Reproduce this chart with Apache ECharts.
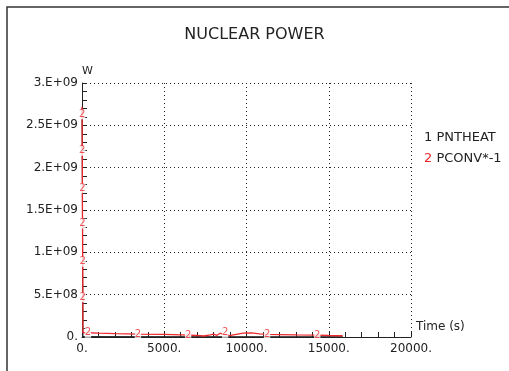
<!DOCTYPE html>
<html>
<head>
<meta charset="utf-8">
<script src="https://cdn.jsdelivr.net/npm/echarts@6/dist/echarts.min.js"></script>
<style>
  html, body { margin: 0; padding: 0; background: #fff; }
  #chart { width: 509px; height: 371px; }
</style>
</head>
<body>
<div id="chart"></div>
<script>
// Nuclear power vs. time (W)
const yTickLabels = ['0.', '5.E+08', '1.E+09', '1.5E+09', '2.E+09', '2.5E+09', '3.E+09'];
const xTickLabels = ['0.', '5000.', '10000.', '15000.', '20000.'];

// PNTHEAT (series 1): initial power, then small decay heat along the time axis
const pntheatTime  = [0, 20, 40, 60, 1000, 3000, 6000, 9000, 12000, 15850];
const pntheatValue = [2.70e9, 1.80e9, 0.90e9, 6.0e6, 5.0e6, 4.5e6, 4.0e6, 3.8e6, 3.5e6, 3.2e6];

// PCONV*-1 (series 2)
const pconvTime  = [0, 8, 16, 24, 32, 40, 48, 56, 62, 360, 1000, 2000, 3400, 5000, 6000, 6450, 7000, 7400, 7800, 8000, 8200, 8400, 8600, 8700, 9000, 9200, 9800, 10300, 10800, 11250, 12000, 13000, 14300, 15000, 15850];
const pconvValue = [2.72e9, 2.63e9, 2.20e9, 1.76e9, 1.34e9, 0.89e9, 0.47e9, 0.05e9, 5.2e7, 5.0e7, 4.5e7, 4.0e7, 3.5e7, 3.0e7, 2.5e7, 2.2e7, 1.8e7, 1.2e7, 2.5e7, 3.5e7, 2.0e7, 4.5e7, 3.0e7, 5.0e7, 1.5e7, 2.5e7, 4.5e7, 4.8e7, 3.8e7, 3.0e7, 2.8e7, 2.5e7, 2.2e7, 1.8e7, 1.5e7];
// points of the PCONV curve that carry the "2" curve marker
const pconvMarkIdx = [1, 2, 3, 4, 5, 6, 9, 12, 15, 23, 29, 32];

const RED = '#ec2a2e';
const INK = '#222';
const FONT = 'DejaVu Sans';

const pair = (ts, vs) => ts.map((t, i) => [t, vs[i]]);
const pconvData = pair(pconvTime, pconvValue);

const chart = echarts.init(document.getElementById('chart'), null, { renderer: 'canvas' });

chart.setOption({
  backgroundColor: '#fff',
  animation: false,
  title: {
    text: 'NUCLEAR POWER',
    left: 'center',
    top: 22,
    textStyle: { fontFamily: FONT, fontSize: 16, fontWeight: 'normal', color: INK }
  },
  legend: {
    orient: 'vertical',
    left: 414,
    top: 126,
    itemGap: 8,
    itemWidth: 0,
    itemHeight: 0,
    icon: 'none',
    selectedMode: false,
    data: ['PNTHEAT', 'PCONV*-1'],
    formatter: name => name === 'PNTHEAT' ? '{k|1} PNTHEAT' : '{r|2} PCONV*-1',
    textStyle: {
      fontFamily: FONT, fontSize: 13, color: INK,
      rich: {
        k: { color: INK, fontFamily: FONT, fontSize: 13 },
        r: { color: RED, fontFamily: FONT, fontSize: 13 }
      }
    }
  },
  grid: { left: 82, right: 98, top: 83, bottom: 34, containLabel: false },
  xAxis: {
    type: 'value',
    min: 0, max: 20000, interval: 5000,
    name: 'Time (s)',
    nameLocation: 'end',
    nameGap: 5,
    nameTextStyle: { fontFamily: FONT, fontSize: 12, color: INK, verticalAlign: 'bottom', align: 'left', padding: [0, 0, 4, 0] },
    axisLine: { show: true, onZero: false, lineStyle: { color: INK, width: 1 } },
    axisTick: { show: true, inside: true, length: 5, lineStyle: { color: INK } },
    minorTick: { show: true, splitNumber: 5, length: 5, lineStyle: { color: INK } },
    axisLabel: {
      fontFamily: FONT, fontSize: 12, color: INK, margin: 6,
      formatter: v => xTickLabels[Math.round(v / 5000)]
    },
    splitLine: { show: true, lineStyle: { color: INK, type: [1, 3], width: 1 } }
  },
  yAxis: {
    type: 'value',
    min: 0, max: 3e9, interval: 5e8,
    name: 'W',
    nameLocation: 'end',
    nameGap: 6,
    nameTextStyle: { fontFamily: FONT, fontSize: 11, color: INK, align: 'left' },
    axisLine: { show: true, onZero: false, lineStyle: { color: INK, width: 1 } },
    axisTick: { show: true, inside: true, length: 5, lineStyle: { color: INK } },
    minorTick: { show: true, splitNumber: 5, length: 5, lineStyle: { color: INK } },
    axisLabel: {
      fontFamily: FONT, fontSize: 12, color: INK, margin: 4,
      formatter: v => yTickLabels[Math.round(v / 5e8)]
    },
    splitLine: { show: true, lineStyle: { color: INK, type: [1, 3], width: 1 } }
  },
  graphic: [{
    type: 'polyline',
    shape: { points: [[7, 371], [7, 7], [509, 7]] },
    style: { stroke: '#333', lineWidth: 1.5, fill: null },
    silent: true
  }],
  series: [
    {
      name: 'PNTHEAT',
      type: 'line',
      data: pair(pntheatTime, pntheatValue),
      showSymbol: false,
      lineStyle: { color: INK, width: 1 },
      itemStyle: { color: INK },
      z: 1
    },
    {
      name: 'PCONV*-1',
      type: 'line',
      data: pconvData,
      showSymbol: false,
      lineStyle: { color: RED, width: 1.3 },
      itemStyle: { color: RED },
      z: 3
    },
    {
      name: 'PCONV*-1 markers',
      type: 'scatter',
      data: pconvMarkIdx.map(i => pconvData[i]),
      symbol: 'circle',
      symbolSize: 1,
      itemStyle: { color: 'rgba(0,0,0,0)' },
      labelLayout: { hideOverlap: false },
      label: {
        show: true, position: 'inside', formatter: '2',
        color: RED, fontFamily: FONT, fontSize: 10,
        backgroundColor: '#fff', padding: [0, 0]
      },
      z: 4
    }
  ]
});
</script>
</body>
</html>
